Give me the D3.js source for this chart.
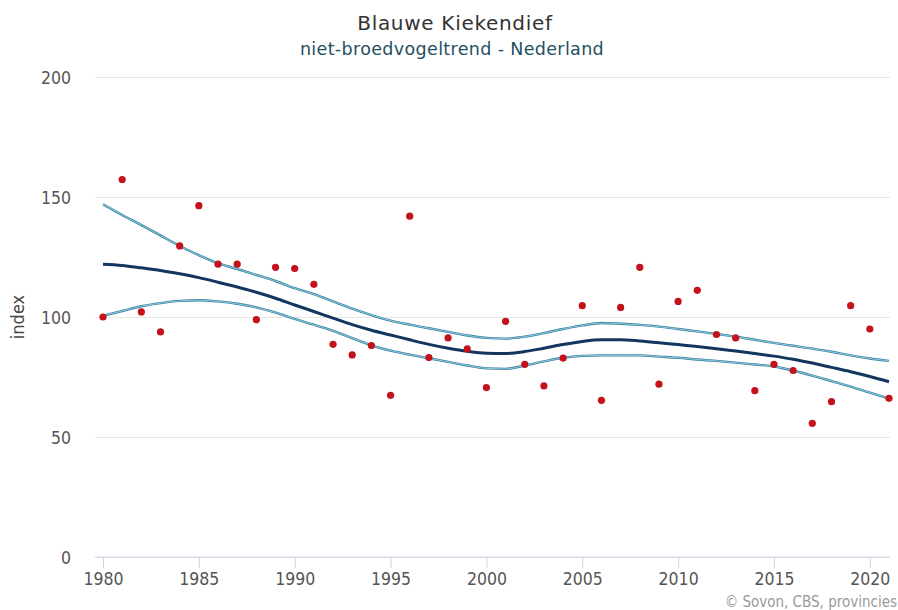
<!DOCTYPE html>
<html>
<head>
<meta charset="utf-8">
<script src="https://cdn.jsdelivr.net/npm/d3@7"></script>
<style>
  html, body { margin: 0; padding: 0; background: #fff; }
  svg { display: block; font-family: "DejaVu Sans", sans-serif; }
</style>
</head>
<body>
<svg id="chart" width="898" height="610"></svg>
<script>
const years = d3.range(1980, 2022);
const observed = [100, 157.3, 102.1, 93.8, 129.6, 146.4, 122.0, 122.0, 98.9, 120.7,
  120.2, 113.6, 88.6, 84.2, 88.1, 67.4, 142.0, 83.1, 91.3, 86.7,
  70.6, 98.2, 80.3, 71.3, 82.9, 104.7, 65.3, 104.0, 120.7, 72.0,
  106.5, 111.1, 92.7, 91.3, 69.3, 80.3, 77.7, 55.7, 64.7, 104.7,
  95.0, 66.1];
const trend = [122, 121.5, 120.5, 119.4, 118, 116.4, 114.5, 112.5, 110.3, 107.8,
  105, 102.3, 99.5, 96.8, 94.5, 92.5, 90.5, 88.6, 87, 85.7,
  84.9, 84.8, 85.6, 87, 88.5, 89.8, 90.5, 90.5, 90, 89.3,
  88.5, 87.7, 86.8, 85.8, 84.8, 83.7, 82.4, 80.8, 79, 77.2,
  75.2, 73];
const upper = [147, 142.5, 138.3, 134, 129.6, 125.8, 122.4, 120, 117.5, 115,
  112, 109.5, 106.5, 103.5, 100.8, 98.5, 96.8, 95.3, 93.8, 92.3,
  91.3, 91, 91.8, 93.3, 95, 96.5, 97.5, 97.2, 96.7, 96,
  95, 94, 92.9, 91.8, 90.5, 89.2, 88, 86.8, 85.5, 84,
  82.7, 81.7];
const lower = [100.5, 102.5, 104.5, 105.8, 106.7, 107, 106.5, 105.5, 104, 101.8,
  99.2, 96.8, 94.2, 91.2, 88.2, 86, 84.3, 82.8, 81.3, 79.8,
  78.6, 78.4, 79.8, 81.5, 83, 83.8, 84, 84, 84, 83.5,
  83, 82.3, 81.7, 81, 80.2, 79.4, 77.7, 75.6, 73.3, 71,
  68.5, 66];
const yTicks = [0, 50, 100, 150, 200];
const xTicks = [1980, 1985, 1990, 1995, 2000, 2005, 2010, 2015, 2020];
const titleText = "Blauwe Kiekendief";
const subtitleText = "niet-broedvogeltrend - Nederland";
const yAxisTitle = "index";
const creditText = "\u00A9 Sovon, CBS, provincies";

const svg = d3.select("#chart");
const plotLeft = 95, plotRight = 890;
const x = d3.scaleLinear().domain([1980, 2021]).range([103, 889]);
const y = d3.scaleLinear().domain([0, 200]).range([557, 77]);
const labelFont = "DejaVu Sans Condensed, DejaVu Sans, sans-serif";

// title
svg.append("text").attr("x", 455).attr("y", 30).attr("text-anchor", "middle")
  .attr("font-size", 20).attr("letter-spacing", 0.7).attr("fill", "#333").text(titleText);
svg.append("text").attr("x", 452).attr("y", 55).attr("text-anchor", "middle")
  .attr("font-size", 17.5).attr("letter-spacing", 0.35).attr("fill", "#22505f").text(subtitleText);

// grid lines
const yAxis = d3.axisLeft(y).tickValues(yTicks).tickSize(0).tickPadding(0);
const gy = svg.append("g").attr("transform", `translate(${plotLeft},0)`).call(yAxis);
gy.select(".domain").remove();
gy.selectAll("line").remove();
gy.selectAll(".tick").append("line").attr("x1", 0).attr("x2", plotRight - plotLeft)
  .attr("stroke", "#e6e6e6").attr("stroke-width", 1);
gy.selectAll("text").attr("x", -24).attr("dy", "0.36em")
  .attr("font-size", 17.5).attr("fill", "#555").attr("font-family", labelFont);

svg.append("text").attr("transform", `translate(24,${y(100)}) rotate(-90)`)
  .attr("text-anchor", "middle").attr("font-size", 18).attr("fill", "#444")
  .attr("font-family", labelFont).text(yAxisTitle);

// x axis
const xAxis = d3.axisBottom(x).tickValues(xTicks).tickFormat(d3.format("d")).tickSize(11).tickPadding(5);
const gx = svg.append("g").attr("transform", `translate(0,${y(0)})`).call(xAxis);
gx.select(".domain").remove();
gx.insert("line", ":first-child").attr("x1", plotLeft).attr("x2", plotRight)
  .attr("stroke", "#ccd6eb").attr("stroke-width", 1);
gx.selectAll(".tick line").attr("stroke", "#ccd6eb");
gx.selectAll("text").attr("font-size", 17.5).attr("fill", "#555").attr("font-family", labelFont);

// lines
const line = d3.line().x((d, i) => x(years[i])).y(d => y(d)).curve(d3.curveMonotoneX);
[upper, lower].forEach(arr => {
  svg.append("path").attr("d", line(arr)).attr("fill", "none")
    .attr("stroke", "#3a7f9f").attr("stroke-width", 2.4);
  svg.append("path").attr("d", line(arr)).attr("fill", "none")
    .attr("stroke", "#8ccbe0").attr("stroke-width", 1);
});
svg.append("path").attr("d", line(trend)).attr("fill", "none")
  .attr("stroke", "#12365f").attr("stroke-width", 3);

// dots
svg.append("g").selectAll("circle").data(observed).join("circle")
  .attr("cx", (d, i) => x(years[i])).attr("cy", d => y(d)).attr("r", 3.6)
  .attr("fill", "#c4121c");

// credits
svg.append("text").attr("x", 897).attr("y", 607).attr("text-anchor", "end")
  .attr("font-size", 15).attr("fill", "#999")
  .attr("font-family", labelFont).text(creditText);
</script>
</body>
</html>
